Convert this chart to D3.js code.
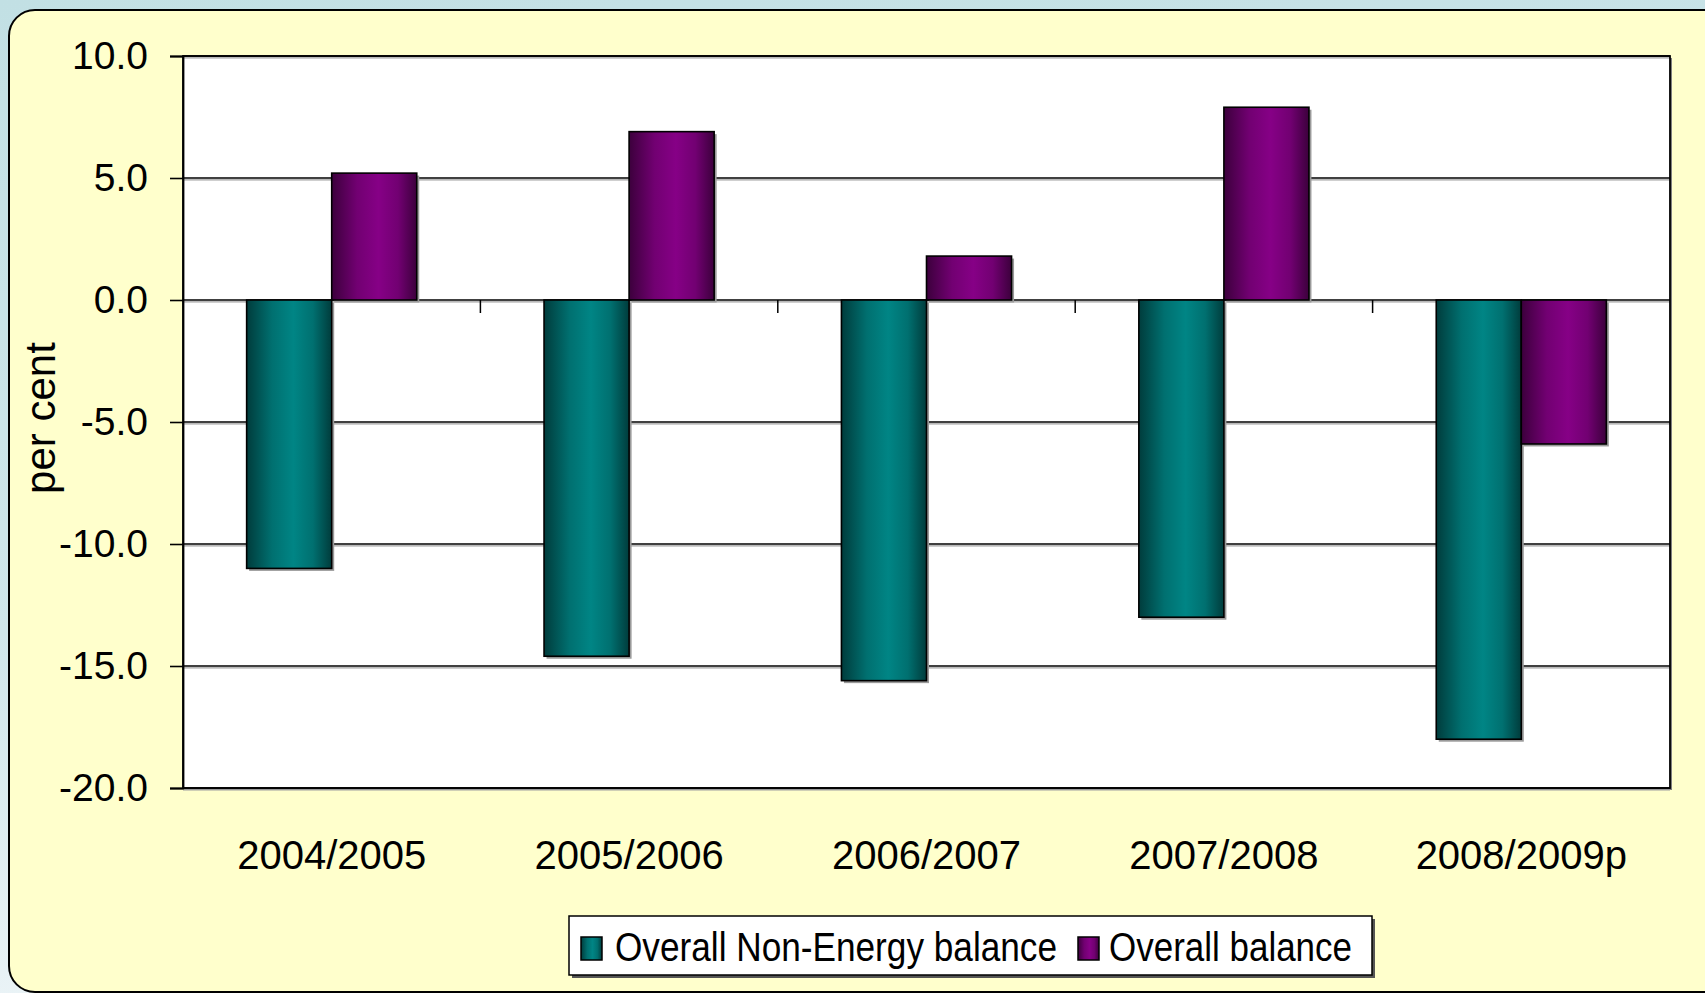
<!DOCTYPE html>
<html>
<head>
<meta charset="utf-8">
<script src="https://cdn.jsdelivr.net/npm/d3@7"></script>
<style>
  html, body { margin: 0; padding: 0; overflow: hidden; }
  svg { display: block; font-family: "Liberation Sans", Arial, sans-serif; }
</style>
</head>
<body>
<svg id="chart" width="1705" height="993"></svg>
<script>
// Fiscal balances as a share of GDP, by fiscal year
const categories = ["2004/2005", "2005/2006", "2006/2007", "2007/2008", "2008/2009p"];
const seriesNames = ["Overall Non-Energy balance", "Overall balance"];
const nonEnergyBalance = [-11.0, -14.6, -15.6, -13.0, -18.0];
const overallBalance = [5.2, 6.9, 1.8, 7.9, -5.9];
const yTicks = [-20, -15, -10, -5, 0, 5, 10];
const yTitle = "per cent";

const W = 1705, H = 993;
const plot = { left: 183, top: 56, right: 1670, bottom: 788 };

const svg = d3.select("#chart");
const defs = svg.append("defs");

// page background
const bg = defs.append("linearGradient").attr("id", "bgGrad")
  .attr("x1", 0).attr("y1", 0).attr("x2", 0.25).attr("y2", 1);
bg.append("stop").attr("offset", 0).attr("stop-color", "#c2e0e4");
bg.append("stop").attr("offset", 0.6).attr("stop-color", "#cfe6ea");
bg.append("stop").attr("offset", 1).attr("stop-color", "#eef5f8");
svg.append("rect").attr("width", W).attr("height", H).attr("fill", "url(#bgGrad)");

// cylinder-like horizontal shading for the bars
function barGradient(id, dark, mid, light) {
  const g = defs.append("linearGradient").attr("id", id)
    .attr("x1", 0).attr("y1", 0).attr("x2", 1).attr("y2", 0);
  g.append("stop").attr("offset", 0).attr("stop-color", dark);
  g.append("stop").attr("offset", 0.3).attr("stop-color", mid);
  g.append("stop").attr("offset", 0.55).attr("stop-color", light);
  g.append("stop").attr("offset", 0.78).attr("stop-color", mid);
  g.append("stop").attr("offset", 1).attr("stop-color", dark);
}
barGradient("gradTeal", "#003c3c", "#007070", "#008585");
barGradient("gradPurple", "#3c003c", "#720072", "#860086");

const colors = { [seriesNames[0]]: "url(#gradTeal)", [seriesNames[1]]: "url(#gradPurple)" };

// panel
svg.append("rect")
  .attr("x", 9).attr("y", 10).attr("width", 1730).attr("height", 982).attr("rx", 26)
  .attr("fill", "#ffffcc").attr("stroke", "#000").attr("stroke-width", 2);

// scales
const x0 = d3.scaleBand().domain(categories)
  .range([plot.left, plot.right]).paddingInner(0.428).paddingOuter(0.214);
const x1 = d3.scaleBand().domain(seriesNames).range([0, x0.bandwidth()]);
const y = d3.scaleLinear().domain([-20, 10]).range([plot.bottom, plot.top]);

// plot area with shadow
svg.append("rect")
  .attr("x", plot.left + 2).attr("y", plot.top + 2)
  .attr("width", plot.right - plot.left).attr("height", plot.bottom - plot.top)
  .attr("fill", "#808080");
svg.append("rect")
  .attr("x", plot.left).attr("y", plot.top)
  .attr("width", plot.right - plot.left).attr("height", plot.bottom - plot.top)
  .attr("fill", "#fff");

// gridlines
const grid = svg.append("g");
grid.selectAll("line.shadow").data(yTicks).join("line").attr("class", "shadow")
  .attr("x1", plot.left).attr("x2", plot.right)
  .attr("y1", d => y(d) + 1.8).attr("y2", d => y(d) + 1.8)
  .attr("stroke", "#a0a0a0").attr("stroke-width", 1.2);
grid.selectAll("line.main").data(yTicks).join("line").attr("class", "main")
  .attr("x1", plot.left).attr("x2", plot.right)
  .attr("y1", d => y(d)).attr("y2", d => y(d))
  .attr("stroke", "#000").attr("stroke-width", 1.6);

// bars
const rows = categories.map((c, i) => ({
  cat: c,
  values: [
    { name: seriesNames[0], value: nonEnergyBalance[i] },
    { name: seriesNames[1], value: overallBalance[i] }
  ]
}));

const groups = svg.append("g").selectAll("g").data(rows).join("g")
  .attr("transform", d => `translate(${x0(d.cat)},0)`);

groups.selectAll("rect.shadow").data(d => d.values).join("rect").attr("class", "shadow")
  .attr("x", d => x1(d.name) + 2.5)
  .attr("y", d => Math.min(y(d.value), y(0)) + 2.5)
  .attr("width", x1.bandwidth())
  .attr("height", d => Math.abs(y(d.value) - y(0)))
  .attr("fill", "#9a9a9a");

groups.selectAll("rect.bar").data(d => d.values).join("rect").attr("class", "bar")
  .attr("x", d => x1(d.name))
  .attr("y", d => Math.min(y(d.value), y(0)))
  .attr("width", x1.bandwidth())
  .attr("height", d => Math.abs(y(d.value) - y(0)))
  .attr("fill", d => colors[d.name])
  .attr("stroke", "#000").attr("stroke-width", 1.6);

// plot border
svg.append("rect")
  .attr("x", plot.left).attr("y", plot.top)
  .attr("width", plot.right - plot.left).attr("height", plot.bottom - plot.top)
  .attr("fill", "none").attr("stroke", "#000").attr("stroke-width", 1.8);

// zero axis: short ticks between categories
const zeroY = y(0);
const gapHalf = (x0.step() - x0.bandwidth()) / 2;
const bounds = categories.slice(1).map(c => x0(c) - gapHalf);
svg.append("g").selectAll("line").data(bounds).join("line")
  .attr("x1", d => d).attr("x2", d => d)
  .attr("y1", zeroY).attr("y2", zeroY + 13)
  .attr("stroke", "#000").attr("stroke-width", 1.5);

// y axis
const fmt = v => d3.format(".1f")(v).replace("\u2212", "-");
const yAxis = svg.append("g")
  .attr("transform", `translate(${plot.left},0)`)
  .call(d3.axisLeft(y).tickValues(yTicks).tickFormat(fmt).tickSize(13).tickPadding(22));
yAxis.select(".domain").attr("stroke", "#000").attr("stroke-width", 1.8);
yAxis.selectAll(".tick line").attr("stroke", "#000").attr("stroke-width", 1.6);
yAxis.selectAll(".tick text")
  .attr("font-size", 39).attr("fill", "#000")
  .attr("font-family", "'Liberation Sans', Arial, sans-serif");

// category labels
svg.append("g").selectAll("text").data(categories).join("text")
  .attr("x", d => x0(d) + x0.bandwidth() / 2)
  .attr("y", 869)
  .attr("text-anchor", "middle")
  .attr("font-size", 40)
  .attr("fill", "#000")
  .text(d => d);

// y axis title
svg.append("text")
  .attr("transform", "translate(55,418) rotate(-90)")
  .attr("text-anchor", "middle")
  .attr("font-size", 42)
  .attr("fill", "#000")
  .text(yTitle);

// legend
const lg = { x: 569, y: 916, w: 803, h: 59 };
svg.append("rect").attr("x", lg.x + 3).attr("y", lg.y + 3).attr("width", lg.w).attr("height", lg.h).attr("fill", "#555");
svg.append("rect").attr("x", lg.x).attr("y", lg.y).attr("width", lg.w).attr("height", lg.h)
  .attr("fill", "#fff").attr("stroke", "#000").attr("stroke-width", 1.5);

const legendItems = [
  { name: seriesNames[0], sx: 581, tx: 615, tw: 442 },
  { name: seriesNames[1], sx: 1078, tx: 1109, tw: 243 }
];
const li = svg.append("g").selectAll("g").data(legendItems).join("g");
li.append("rect")
  .attr("x", d => d.sx).attr("y", 937).attr("width", 21).attr("height", 23)
  .attr("fill", d => colors[d.name]).attr("stroke", "#000").attr("stroke-width", 1.5);
li.append("text")
  .attr("x", d => d.tx).attr("y", 961)
  .attr("font-size", 40)
  .attr("textLength", d => d.tw).attr("lengthAdjust", "spacingAndGlyphs")
  .attr("fill", "#000")
  .text(d => d.name);
</script>
</body>
</html>
